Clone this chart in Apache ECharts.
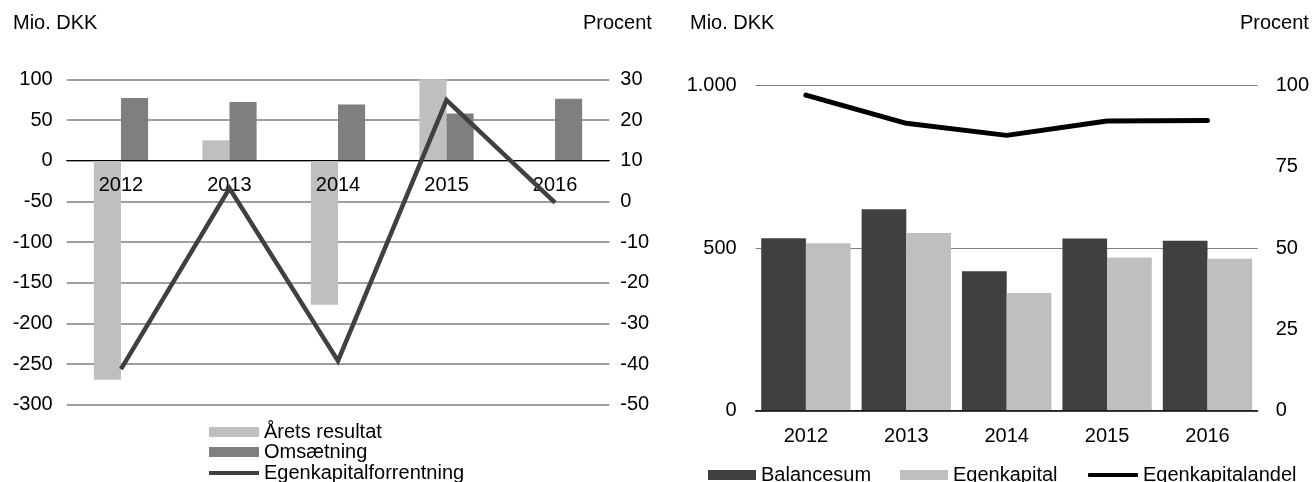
<!DOCTYPE html>
<html><head><meta charset="utf-8">
<script src="https://cdn.jsdelivr.net/npm/echarts@6/dist/echarts.min.js"></script>
<style>html,body{margin:0;padding:0;background:#fff}#c{width:1314px;height:482px}</style>
</head><body><div id="c"></div>
<script>
// Categories
const years = ['2012', '2013', '2014', '2015', '2016'];
// Left chart (Mio. DKK / Procent)
const aretsResultat = [-269, 25, -177, 100, 0];
const omsaetning = [77, 72, 69, 58, 76];
const egenkapitalforrentning = [-41.2, 3.2, -39.2, 24.9, -0.3];
// Right chart (Mio. DKK / Procent)
const balancesum = [530, 619, 428, 529, 522];
const egenkapital = [515, 546, 361, 471, 467];
const egenkapitalandel = [97.1, 88.4, 84.7, 89.1, 89.3];

const FONT = 'Liberation Sans, Arial, sans-serif';
const FS = 20;
const lbl = { color: '#000', fontFamily: FONT, fontSize: FS };
const danish = v => String(v).replace(/\B(?=(\d{3})+(?!\d))/g, '.');

function legendItem(name, left, top, w, h, icon) {
  return {
    orient: 'horizontal', left: left, top: top, padding: 0,
    itemWidth: w, itemHeight: h, itemGap: 0,
    selectedMode: false,
    textStyle: { color: '#000', fontFamily: FONT, fontSize: FS, lineHeight: 20, padding: [0, 0, 0, 0] },
    data: [{ name: name, icon: icon }]
  };
}

const chart = echarts.init(document.getElementById('c'), null, { renderer: 'canvas' });
chart.setOption({
  animation: false,
  backgroundColor: '#fff',
  textStyle: { fontFamily: FONT },
  graphic: [
    { type: 'text', left: 13, top: 13, style: { text: 'Mio. DKK', font: FS + 'px ' + FONT, fill: '#000' } },
    { type: 'text', left: 583, top: 13, style: { text: 'Procent', font: FS + 'px ' + FONT, fill: '#000' } },
    { type: 'text', left: 690, top: 13, style: { text: 'Mio. DKK', font: FS + 'px ' + FONT, fill: '#000' } },
    { type: 'text', left: 1240, top: 13, style: { text: 'Procent', font: FS + 'px ' + FONT, fill: '#000' } }
  ],
  grid: [
    { left: 66.7, right: 1314 - 609.3, top: 79.3, height: 325.6, containLabel: false },
    { left: 755.7, right: 1314 - 1257.7, top: 85.7, height: 324.6, containLabel: false }
  ],
  xAxis: [
    { type: 'category', gridIndex: 0, data: years, position: 'bottom', offset: -244.2, z: 4,
      axisLine: { show: true, onZero: false, lineStyle: { color: '#000', width: 1 } },
      axisTick: { show: false }, axisLabel: Object.assign({ margin: 15 }, lbl) },
    { type: 'category', gridIndex: 1, data: years, z: 4,
      axisLine: { show: true, lineStyle: { color: '#000', width: 1.5 } },
      axisTick: { show: false }, axisLabel: Object.assign({ margin: 16 }, lbl) }
  ],
  yAxis: [
    { type: 'value', gridIndex: 0, min: -300, max: 100, interval: 50, position: 'left',
      axisLine: { show: false }, axisTick: { show: false },
      axisLabel: Object.assign({ margin: 14 }, lbl),
      splitLine: { show: true, lineStyle: { color: '#7f7f7f', width: 1.5 } } },
    { type: 'value', gridIndex: 0, min: -50, max: 30, interval: 10, position: 'right',
      axisLine: { show: false }, axisTick: { show: false },
      axisLabel: Object.assign({ margin: 11 }, lbl),
      splitLine: { show: false } },
    { type: 'value', gridIndex: 1, min: 0, max: 1000, interval: 500, position: 'left',
      axisLine: { show: false }, axisTick: { show: false },
      axisLabel: Object.assign({ margin: 19, formatter: danish }, lbl),
      splitLine: { show: true, lineStyle: { color: '#7f7f7f', width: 1 } } },
    { type: 'value', gridIndex: 1, min: 0, max: 100, interval: 25, position: 'right',
      axisLine: { show: false }, axisTick: { show: false },
      axisLabel: Object.assign({ margin: 18 }, lbl),
      splitLine: { show: false } }
  ],
  legend: [
    legendItem('Årets resultat', 209, 422, 50, 10, 'rect'),
    legendItem('Omsætning', 209, 442, 50, 10, 'rect'),
    legendItem('Egenkapitalforrentning', 209, 463, 50, 4, 'rect'),
    legendItem('Balancesum', 708, 465, 48, 10, 'rect'),
    legendItem('Egenkapital', 900, 465, 48, 10, 'rect'),
    legendItem('Egenkapitalandel', 1088, 465, 50, 4, 'roundRect')
  ],
  series: [
    { name: 'Årets resultat', type: 'bar', xAxisIndex: 0, yAxisIndex: 0, data: aretsResultat,
      barGap: '0%', barCategoryGap: '50%', itemStyle: { color: '#bfbfbf' } },
    { name: 'Omsætning', type: 'bar', xAxisIndex: 0, yAxisIndex: 0, data: omsaetning,
      itemStyle: { color: '#7f7f7f' } },
    { name: 'Egenkapitalforrentning', type: 'line', xAxisIndex: 0, yAxisIndex: 1, data: egenkapitalforrentning,
      symbol: 'none', z: 5, lineStyle: { color: '#404040', width: 4.5, join: 'miter' }, itemStyle: { color: '#404040' } },
    { name: 'Balancesum', type: 'bar', xAxisIndex: 1, yAxisIndex: 2, data: balancesum,
      barGap: '0%', barCategoryGap: '11%', itemStyle: { color: '#404040' } },
    { name: 'Egenkapital', type: 'bar', xAxisIndex: 1, yAxisIndex: 2, data: egenkapital,
      itemStyle: { color: '#bfbfbf' } },
    { name: 'Egenkapitalandel', type: 'line', xAxisIndex: 1, yAxisIndex: 3, data: egenkapitalandel,
      symbol: 'none', z: 5, lineStyle: { color: '#000', width: 5, cap: 'round', join: 'round' }, itemStyle: { color: '#000' } }
  ]
});
</script>
</body></html>
